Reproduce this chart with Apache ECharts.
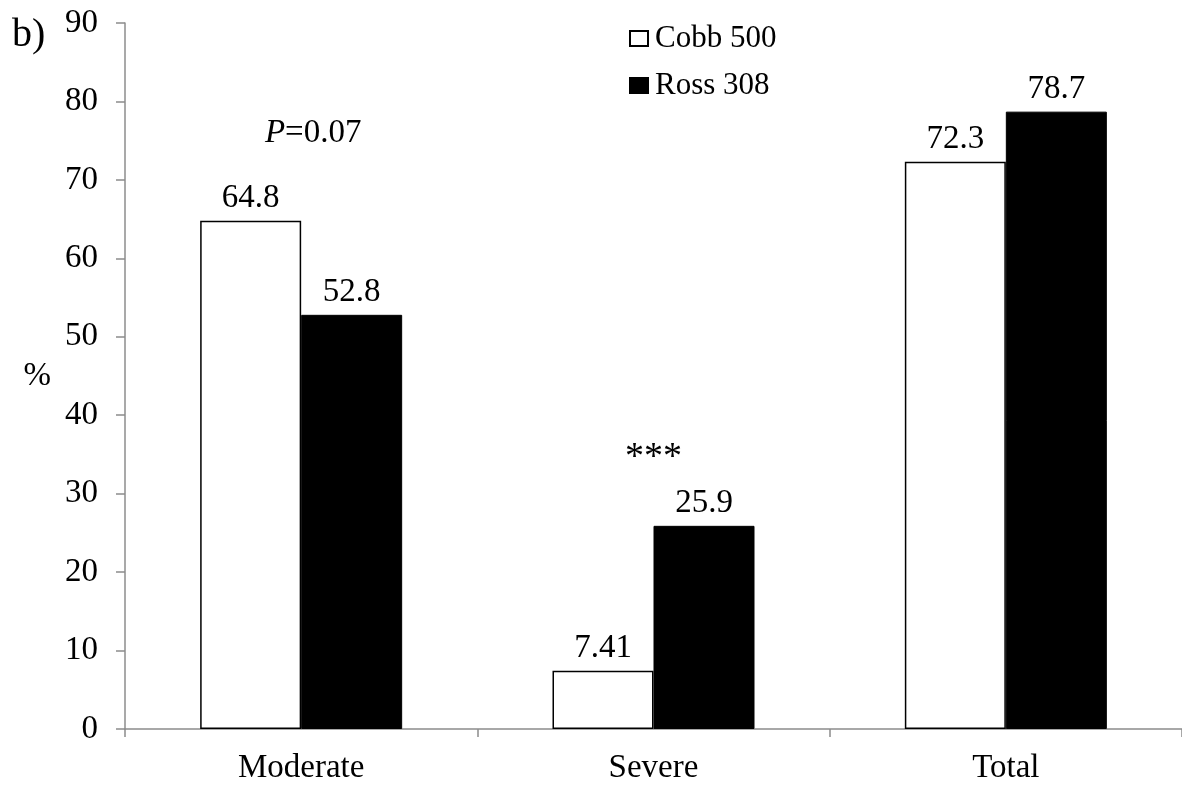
<!DOCTYPE html>
<html>
<head>
<meta charset="utf-8">
<script src="https://cdn.jsdelivr.net/npm/echarts@6/dist/echarts.min.js"></script>
<style>html,body{margin:0;padding:0;background:#fff;}#chart{width:1182px;height:785px;}</style>
</head>
<body>
<div id="chart"></div>
<script>
const categories = ['Moderate', 'Severe', 'Total'];
const cobb500 = [64.8, 7.41, 72.3];
const ross308 = [52.8, 25.9, 78.7];
const seriesNames = ['Cobb 500', 'Ross 308'];
const yMin = 0, yMax = 90, yInterval = 10;
const panelLabel = 'b)';
const yAxisName = '%';
const annotations = [
  { cat: 0, value: 75.9, text: '{i|P}=0.07' },
  { cat: 1, value: 34.6, text: '***' }
];

const FONT = '"Liberation Serif", "Times New Roman", serif';
const FS = 33;
const AXIS_COLOR = '#8c8c8c';

const chart = echarts.init(document.getElementById('chart'), null, { renderer: 'canvas' });

const option = {
  backgroundColor: '#fff',
  animation: false,
  textStyle: { fontFamily: FONT, color: '#000' },
  grid: { left: 125, top: 23, bottom: 53, width: 1062, containLabel: false },
  legend: {
    orient: 'vertical',
    left: 624,
    top: 18,
    itemWidth: 18,
    itemHeight: 15,
    itemGap: 16,
    icon: 'rect',
    textStyle: { fontFamily: FONT, fontSize: 31, color: '#000', padding: [0, 0, 0, 2] },
    data: seriesNames
  },
  xAxis: {
    type: 'category',
    data: categories,
    axisLine: { lineStyle: { color: AXIS_COLOR, width: 1.5 } },
    axisTick: { show: true, length: 8, lineStyle: { color: AXIS_COLOR, width: 1.5 } },
    axisLabel: { fontFamily: FONT, fontSize: FS, color: '#000', margin: 23 }
  },
  yAxis: {
    type: 'value',
    min: yMin, max: yMax, interval: yInterval,
    name: yAxisName,
    nameLocation: 'middle',
    nameRotate: 0,
    nameGap: 74,
    nameTextStyle: { fontFamily: FONT, fontSize: FS, color: '#000', padding: [0, 0, 60, 0] },
    axisLine: { show: true, lineStyle: { color: AXIS_COLOR, width: 1.5 } },
    axisTick: { show: true, length: 9, lineStyle: { color: AXIS_COLOR, width: 1.5 } },
    splitLine: { show: false },
    axisLabel: { fontFamily: FONT, fontSize: FS, color: '#000', margin: 27 }
  },
  series: [
    {
      name: seriesNames[0],
      type: 'bar',
      data: cobb500,
      barWidth: 101,
      barGap: '0%',
      itemStyle: { color: '#fff', borderColor: '#000', borderWidth: 1.5 },
      label: { show: true, position: 'top', distance: 6, fontFamily: FONT, fontSize: FS, color: '#000' }
    },
    {
      name: seriesNames[1],
      type: 'bar',
      data: ross308,
      barWidth: 101,
      barGap: '0%',
      itemStyle: { color: '#000', borderColor: '#000', borderWidth: 1 },
      label: { show: true, position: 'top', distance: 6, fontFamily: FONT, fontSize: FS, color: '#000' }
    }
  ]
};

chart.setOption(option);

function placeAnnotations() {
  const g = [{
    type: 'text', left: 12, top: 15,
    style: { text: panelLabel, font: '40px ' + FONT, fill: '#000' }
  }];
  const pPix = chart.convertToPixel({ seriesIndex: 0 }, [annotations[0].cat, annotations[0].value]);
  const sPix = chart.convertToPixel({ seriesIndex: 0 }, [annotations[1].cat, annotations[1].value]);
  g.push({
    type: 'text', x: pPix[0] + 12, y: pPix[1],
    style: {
      text: annotations[0].text, align: 'center', verticalAlign: 'middle',
      font: FS + 'px ' + FONT, fill: '#000',
      rich: { i: { fontStyle: 'italic', fontFamily: FONT, fontSize: FS } }
    }
  });
  g.push({
    type: 'text', x: sPix[0], y: sPix[1],
    style: { text: annotations[1].text, align: 'center', verticalAlign: 'middle', font: '38px ' + FONT, fill: '#000' }
  });
  chart.setOption({ graphic: g });
}
placeAnnotations();
</script>
</body>
</html>
